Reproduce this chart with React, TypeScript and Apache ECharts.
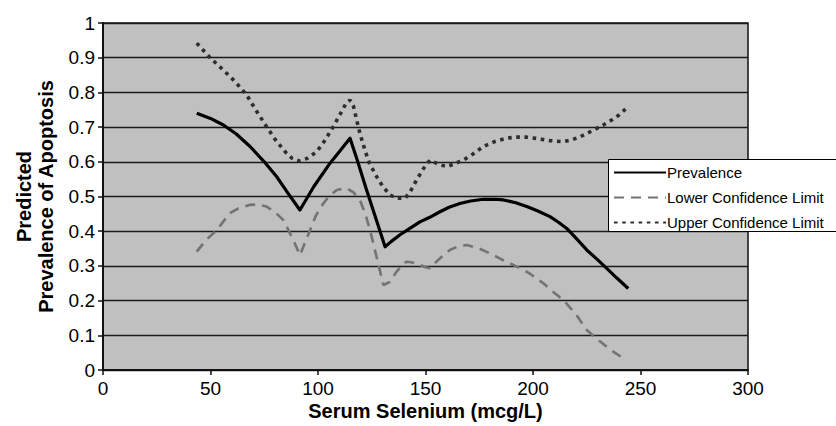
import React, { useEffect, useRef } from "react";
import * as echarts from "echarts";

const seriesNames = ["Prevalence", "Lower Confidence Limit", "Upper Confidence Limit"];
const xTitle = "Serum Selenium (mcg/L)";
const yTitleLines = ["Predicted", "Prevalence of Apoptosis"];

const prevalence: [number, number][] = [
  [43.6, 0.74], [50, 0.725], [56, 0.706], [62, 0.68], [68.4, 0.644], [75, 0.6], [80.8, 0.557],
  [86, 0.51], [91.6, 0.461], [98, 0.528], [105.6, 0.596], [110, 0.63], [114.9, 0.668],
  [118.5, 0.6], [122.6, 0.519], [127, 0.435], [131.2, 0.355], [134, 0.37], [138, 0.389],
  [142, 0.405], [147.4, 0.427], [152, 0.44], [156.7, 0.456], [161, 0.469], [166, 0.48],
  [171, 0.487], [176.9, 0.492], [182, 0.492], [186.2, 0.49], [192, 0.482], [197.1, 0.471],
  [202, 0.459], [207.9, 0.442], [212, 0.425], [215.7, 0.408], [220, 0.38], [225, 0.346],
  [230, 0.318], [234.3, 0.293], [239, 0.265], [244.3, 0.235],
];

const lowerLimit: [number, number][] = [
  [43.6, 0.341], [48, 0.375], [52.9, 0.403], [59, 0.452], [63, 0.466], [68.4, 0.476],
  [72, 0.477], [76.1, 0.471], [80, 0.455], [83.9, 0.432], [88.5, 0.375], [91.6, 0.331],
  [93.5, 0.36], [96.3, 0.403], [99, 0.445], [102.5, 0.48], [105, 0.5], [108.7, 0.519],
  [113.3, 0.524], [116.5, 0.512], [119.5, 0.49], [122, 0.45], [124.2, 0.403], [128, 0.307],
  [130.4, 0.245], [133.5, 0.254], [136.5, 0.283], [139.7, 0.307], [141.3, 0.312], [144, 0.31],
  [147.4, 0.303], [150, 0.296], [152.1, 0.293], [156, 0.318], [161.4, 0.346], [165, 0.356],
  [169.2, 0.36], [175, 0.35], [180, 0.336], [185, 0.32], [190.8, 0.303], [198, 0.28],
  [204.8, 0.25], [210, 0.222], [214.1, 0.202], [220, 0.16], [225, 0.115], [230, 0.088],
  [234.3, 0.067], [238, 0.05], [242, 0.034],
];

const upperLimit: [number, number][] = [
  [43.6, 0.942], [49.8, 0.9], [55, 0.87], [60, 0.84], [63, 0.82], [66.8, 0.793], [71, 0.75],
  [76.1, 0.701], [80, 0.665], [85.4, 0.624], [88, 0.61], [91.6, 0.602], [95, 0.61],
  [99.4, 0.629], [103, 0.66], [107.1, 0.701], [111, 0.745], [113, 0.768], [114.9, 0.778],
  [116.5, 0.76], [118, 0.72], [119.5, 0.682], [122, 0.63], [124, 0.595], [127.3, 0.557],
  [130, 0.53], [133.5, 0.504], [136.7, 0.495], [140.5, 0.495], [143, 0.515], [145.9, 0.548],
  [149, 0.58], [152.1, 0.605], [156, 0.593], [159.9, 0.586], [163, 0.593], [167.6, 0.605],
  [172, 0.622], [176.9, 0.644], [182, 0.658], [187.8, 0.668], [192, 0.671], [197.1, 0.671],
  [202, 0.667], [207.9, 0.661], [214.1, 0.658], [218, 0.663], [221.9, 0.672], [227, 0.688],
  [232.7, 0.706], [237, 0.722], [240, 0.735], [243, 0.752],
];

const FONT = "'Liberation Sans', Arial, sans-serif";

export default function App() {
  const ref = useRef<HTMLDivElement>(null);
  useEffect(() => {
    if (!ref.current) return;
    const chart = echarts.init(ref.current, undefined, { renderer: "svg" });
    const gridLeft = 103;
    const gridTop = 23;
    const gridW = 645;
    const gridH = 347;
    chart.setOption({
      animation: false,
      textStyle: { fontFamily: FONT },
      grid: {
        left: gridLeft,
        top: gridTop,
        width: gridW,
        height: gridH,
        show: true,
        backgroundColor: "#c0c0c0",
        borderColor: "#111",
        borderWidth: 1.5,
      },
      legend: {
        orient: "vertical",
        left: 608,
        top: 160,
        padding: [5, 5, 5, 5],
        itemWidth: 52,
        itemHeight: 14,
        itemGap: 10,
        backgroundColor: "transparent",
        borderWidth: 0,
        itemStyle: { opacity: 0, borderWidth: 0 },
        textStyle: { fontFamily: FONT, fontSize: 15, color: "#000", padding: [0, 0, 0, -4] },
        data: seriesNames,
        z: 10,
      },
      xAxis: {
        type: "value",
        min: 0,
        max: 300,
        interval: 50,
        axisLine: { show: true, lineStyle: { color: "#111", width: 2 } },
        axisTick: { show: true, length: 5, lineStyle: { color: "#111", width: 1.5 } },
        axisLabel: { fontSize: 19, color: "#000", margin: 9, fontFamily: FONT },
        splitLine: { show: false },
      },
      yAxis: {
        type: "value",
        min: 0,
        max: 1,
        interval: 0.1,
        axisLine: { show: true, lineStyle: { color: "#111", width: 2 } },
        axisTick: { show: true, length: 5, lineStyle: { color: "#111", width: 1.5 } },
        axisLabel: { fontSize: 19, color: "#000", margin: 8, fontFamily: FONT },
        splitLine: { show: true, lineStyle: { color: "#1a1a1a", width: 1.3 } },
      },
      graphic: [
        {
          type: "rect",
          shape: { x: 608.5, y: 159.5, width: 240, height: 72 },
          style: { fill: "#fff", stroke: "#000", lineWidth: 1 },
          z: 5,
        },
        {
          type: "text",
          x: gridLeft + gridW / 2,
          y: 411,
          style: {
            text: xTitle,
            font: `bold 20px ${FONT}`,
            fill: "#000",
            textAlign: "center",
            textVerticalAlign: "middle",
          },
        },
        {
          type: "text",
          x: 24,
          y: gridTop + gridH / 2,
          rotation: Math.PI / 2,
          style: {
            text: yTitleLines[0],
            font: `bold 20px ${FONT}`,
            fill: "#000",
            textAlign: "center",
            textVerticalAlign: "middle",
          },
        },
        {
          type: "text",
          x: 46,
          y: gridTop + gridH / 2,
          rotation: Math.PI / 2,
          style: {
            text: yTitleLines[1],
            font: `bold 20px ${FONT}`,
            fill: "#000",
            textAlign: "center",
            textVerticalAlign: "middle",
          },
        },
      ],
      series: [
        {
          name: seriesNames[0],
          type: "line",
          data: prevalence,
          symbol: "none",
          lineStyle: { color: "#000", width: 3.2, join: "round" },
          itemStyle: { color: "#000" },
          z: 3,
        },
        {
          name: seriesNames[1],
          type: "line",
          data: lowerLimit,
          symbol: "none",
          lineStyle: { color: "#737373", width: 2.6, type: [10, 7] },
          itemStyle: { color: "#737373" },
          z: 2,
        },
        {
          name: seriesNames[2],
          type: "line",
          data: upperLimit,
          symbol: "none",
          lineStyle: { color: "#2e2e2e", width: 3.6, type: [3.6, 4.6] },
          itemStyle: { color: "#2e2e2e" },
          z: 2,
        },
      ],
    });
    return () => chart.dispose();
  }, []);
  return <div ref={ref} style={{ width: 836, height: 426, position: "absolute", left: 0, top: 0 }} />;
}
